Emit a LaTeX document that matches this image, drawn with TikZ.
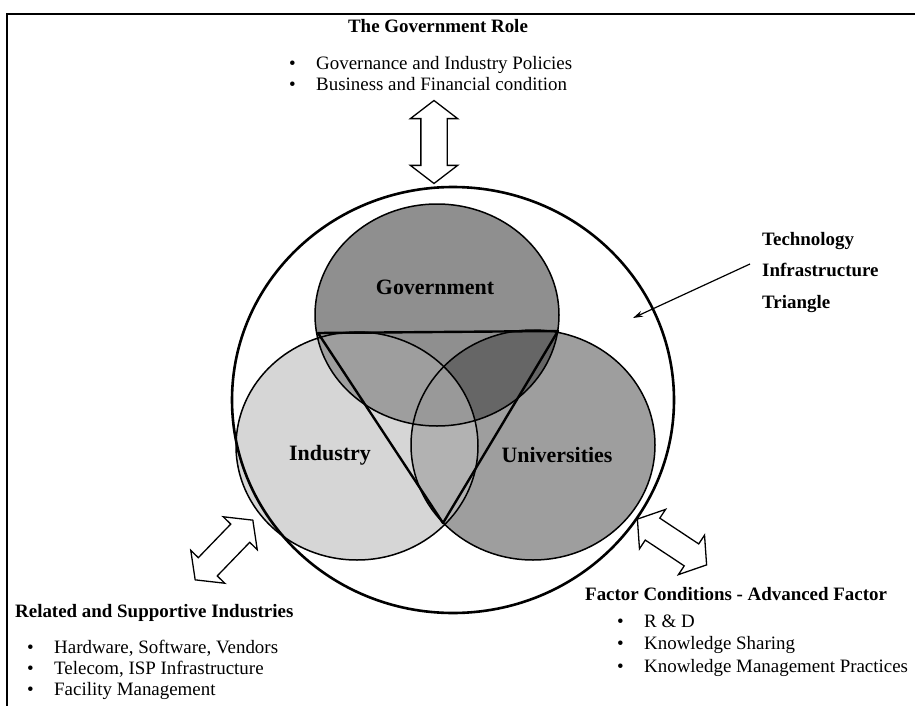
\documentclass[tikz,border=0pt]{standalone}
\usepackage{fontspec}
\setmainfont{Liberation Serif}
\usetikzlibrary{shapes.arrows,arrows.meta}

\definecolor{indgray}{gray}{0.84}
\definecolor{unigray}{gray}{0.62}
\definecolor{govgray}{gray}{0.56}
\definecolor{govindgray}{gray}{0.62}
\definecolor{govunigray}{gray}{0.40}
\definecolor{indunigray}{gray}{0.70}
\definecolor{triplegray}{gray}{0.60}

\tikzset{
  frame/.style={line width=2bp},
  venn/.style={draw, line width=1.5bp},
  ring/.style={draw, line width=2.6bp},
  tri/.style={draw, line width=2.4bp, line join=round},
  bigarrow/.style={double arrow, draw, line width=1.3bp, fill=white,
    minimum height=83bp, inner xsep=0pt, inner ysep=12.5bp,
    double arrow head extend=10.5bp, double arrow tip angle=105},
  vennlabel/.style={font=\bfseries\fontsize{22}{24}\selectfont, inner sep=0pt},
  heading/.style={font=\bfseries\fontsize{19}{22}\selectfont, inner sep=0pt},
  itemlist/.style={font=\fontsize{19}{22}\selectfont, align=left, inner sep=0pt},
}
\newcommand{\bul}{\makebox[27bp][l]{\textbullet}}

\begin{document}
\begin{tikzpicture}[x=1bp, y=-1bp]
\useasboundingbox (0,0) rectangle (915,706);
\draw[frame] (7,706) -- (7,14) -- (915,14);

% the three circles
\def\govshape{(437,315) ellipse [x radius=122, y radius=111]}
\def\indshape{(357,446) ellipse [x radius=121, y radius=114]}
\def\unishape{(533,445) ellipse [x radius=122, y radius=115]}

\fill[indgray] \indshape;
\fill[unigray] \unishape;
\fill[govgray] \govshape;
\begin{scope}
  \clip \indshape;
  \fill[govindgray] \govshape;
  \fill[indunigray] \unishape;
\end{scope}
\begin{scope}
  \clip \unishape;
  \fill[govunigray] \govshape;
\end{scope}
\begin{scope}
  \clip \indshape;
  \clip \unishape;
  \fill[triplegray] \govshape;
\end{scope}
\draw[venn] \govshape;
\draw[venn] \indshape;
\draw[venn] \unishape;

\draw[tri] (318,333) -- (558,331) -- (443,523) -- cycle;
\draw[ring] (453,400) ellipse [x radius=221, y radius=213];

\node[vennlabel] (govlabel) at (435,287) {Government};
\node[vennlabel] (indlabel) at (330,455) {Industry};
\node[vennlabel] (unilabel) at (557,455) {Universities};

% block arrows
\node[bigarrow, rotate=90] (govarrow) at (434,142) {};
\node[bigarrow, rotate=46] (relarrow) at (224,550) {};
\node[bigarrow, rotate=-33.5] (facarrow) at (672,542) {};

% texts
\node[heading, anchor=base] (govrole) at (438,33) {The Government Role};
\node[itemlist, anchor=base west] (govlist) at (289,91)
  {\bul Governance and Industry Policies\\ \bul Business and Financial condition};

\node[heading, anchor=base west] (relrole) at (15,617) {Related and Supportive Industries};
\node[itemlist, anchor=base west, font=\fontsize{19}{21}\selectfont] (rellist) at (27,695)
  {\bul Hardware, Software, Vendors\\ \bul Telecom, ISP Infrastructure\\ \bul Facility Management};

\node[heading, anchor=base west] (facrole) at (585,600) {Factor Conditions - Advanced Factor};
\node[itemlist, anchor=base west, font=\fontsize{19}{22.5}\selectfont] (faclist) at (617,672)
  {\bul R \& D\\ \bul Knowledge Sharing\\ \bul Knowledge Management Practices};

\node[heading, align=left, anchor=base west, font=\bfseries\fontsize{19}{31.5}\selectfont]
  (techlabel) at (762,308) {Technology\\Infrastructure\\Triangle};
\coordinate (techfrom) at (750,264);
\coordinate (techto) at (633,318);
\draw[line width=1.2bp, -{Stealth[length=10bp, width=6bp]}] (techfrom) -- (techto);
\end{tikzpicture}
\end{document}
